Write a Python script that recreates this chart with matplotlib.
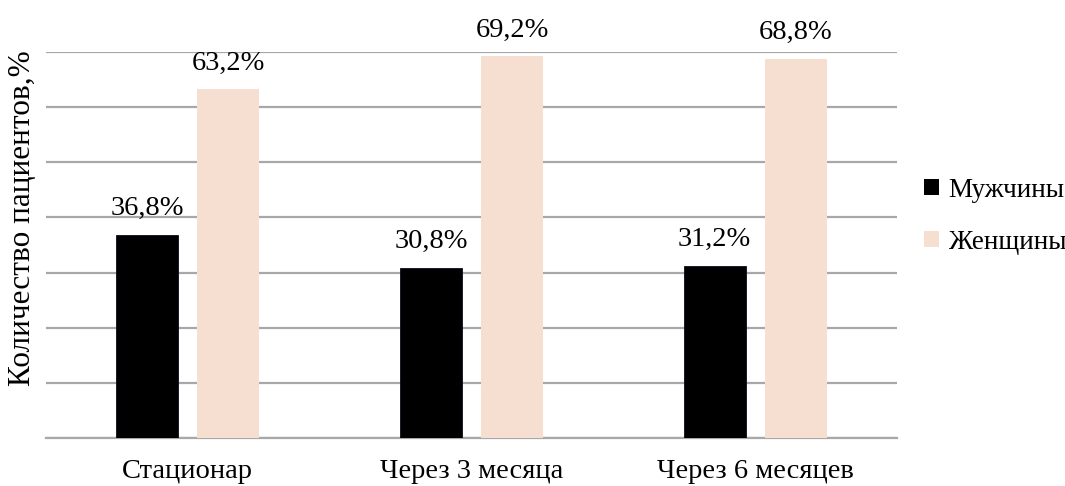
import matplotlib
matplotlib.use("Agg")
import matplotlib.pyplot as plt
from matplotlib.patches import Patch
import numpy as np

categories = ["Стационар", "Через 3 месяца", "Через 6 месяцев"]
men = [36.8, 30.8, 31.2]
women = [63.2, 69.2, 68.8]
series_names = ["Мужчины", "Женщины"]

MEN_COLOUR = "#000000"
WOMEN_COLOUR = "#F6DFD0"
GRID_COLOUR = "#A8A8A8"

plt.rcParams["font.family"] = ["Liberation Serif", "DejaVu Serif"]

fig = plt.figure(figsize=(10.65, 4.86), dpi=100)
ax = fig.add_axes([0.0432, 0.0988, 0.7991, 0.7942])

x = np.arange(len(categories))
width = 0.218
offset = 0.143
b1 = ax.bar(x - offset, men, width, color=MEN_COLOUR, edgecolor="#0a0a20", linewidth=0.6, zorder=3)
b2 = ax.bar(x + offset, women, width, color=WOMEN_COLOUR, linewidth=0, zorder=3)

for bars, vals in ((b1, men), (b2, women)):
    for rect, v in zip(bars, vals):
        ax.annotate(f"{v:.1f}%".replace(".", ","),
                    xy=(rect.get_x() + rect.get_width() / 2, rect.get_height()),
                    xytext=(0, 10), textcoords="offset points",
                    ha="center", va="bottom", fontsize=20.5, annotation_clip=False)

ax.set_xlim(-0.5, 2.5)
ax.set_ylim(0, 70)
ax.set_yticks(np.arange(0, 71, 10))
ax.set_yticklabels([])
ax.tick_params(axis="both", length=0)
ax.set_xticks(x)
ax.set_xticklabels(categories, fontsize=20.5)
ax.tick_params(axis="x", pad=15)
ax.yaxis.grid(True, color=GRID_COLOUR, linewidth=1.6, zorder=0)
for side in ("top", "right", "left"):
    ax.spines[side].set_visible(False)
ax.spines["bottom"].set_color(GRID_COLOUR)
ax.spines["bottom"].set_linewidth(1.6)
ax.set_ylabel("Количество пациентов,%", fontsize=22.5)
ax.yaxis.set_label_coords(-0.011, 0.57)

handles = [Patch(facecolor=MEN_COLOUR), Patch(facecolor=WOMEN_COLOUR)]
fig.legend(handles, series_names, loc="center left", bbox_to_anchor=(0.845, 0.555),
           frameon=False, fontsize=19.5, handlelength=0.55, handleheight=0.55,
           handletextpad=0.35, labelspacing=1.0)

fig.savefig("out.png", dpi=100)
